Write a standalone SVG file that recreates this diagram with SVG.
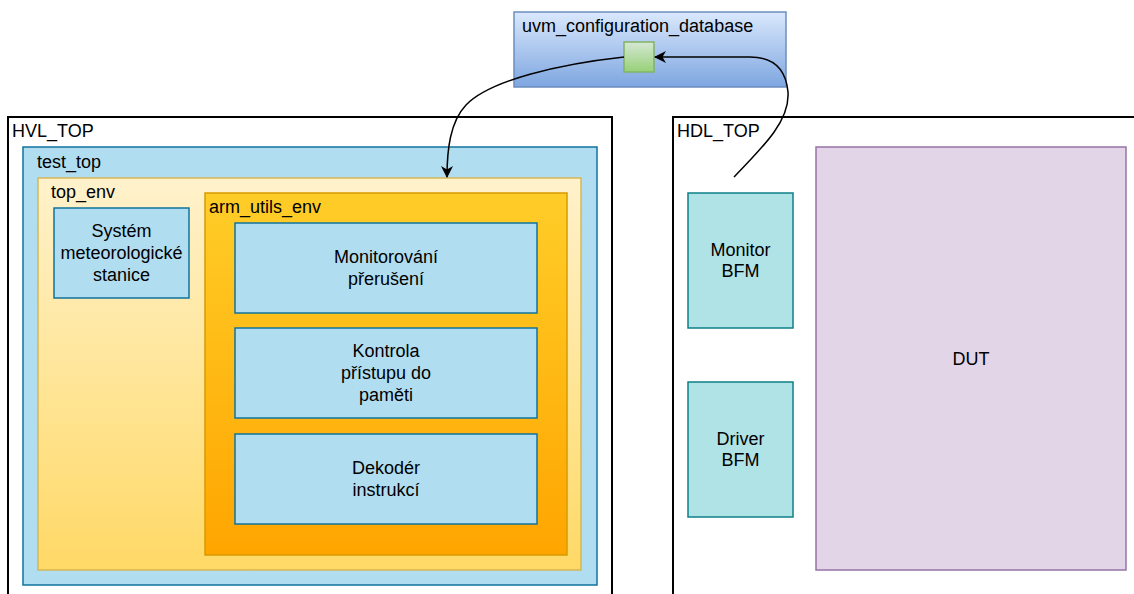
<svg xmlns="http://www.w3.org/2000/svg" width="1134" height="594" viewBox="0 0 1134 594">
<defs>
<linearGradient id="gBlue" x1="0" y1="0" x2="0" y2="1"><stop offset="0" stop-color="#dae8fc"/><stop offset="1" stop-color="#7ea6e0"/></linearGradient>
<linearGradient id="gGreen" x1="0" y1="0" x2="0" y2="1"><stop offset="0" stop-color="#d5e8d4"/><stop offset="1" stop-color="#97d077"/></linearGradient>
<linearGradient id="gYellow" x1="0" y1="0" x2="0" y2="1"><stop offset="0" stop-color="#fff2cc"/><stop offset="1" stop-color="#ffd966"/></linearGradient>
<linearGradient id="gOrange" x1="0" y1="0" x2="0" y2="1"><stop offset="0" stop-color="#ffcd28"/><stop offset="1" stop-color="#ffa500"/></linearGradient>
<marker id="arr" viewBox="0 0 12 12" refX="11" refY="6" markerWidth="12" markerHeight="12" markerUnits="userSpaceOnUse" orient="auto"><path d="M0,0 L12,6 L0,12 L3.5,6 Z" fill="#000"/></marker>
</defs>
<style>
text{font-family:"Liberation Sans",Arial,sans-serif;font-size:18px;fill:#000}
.c{text-anchor:middle}
.top{fill:#fff;stroke:#000;stroke-width:2}
.blue{fill:#b1ddf0;stroke:#10739e;stroke-width:1.5}
.bfm{fill:#b0e3e6;stroke:#0e8088;stroke-width:1.5}
.edge{fill:none;stroke:#000;stroke-width:1.5}
</style>
<rect width="1134" height="594" fill="#fff"/>
<g id="hvl_top">
<rect class="top" x="8" y="117" width="604" height="490"/>
<text x="12" y="137">HVL_TOP</text>
</g>
<g id="test_top">
<rect class="blue" x="23" y="147" width="574" height="438"/>
<text x="37" y="168">test_top</text>
</g>
<g id="top_env">
<rect x="38" y="178" width="543" height="392" fill="url(#gYellow)" stroke="#d6b656" stroke-width="1.5"/>
<text x="51" y="198">top_env</text>
</g>
<g id="system">
<rect class="blue" x="54" y="208" width="135" height="90"/>
<text class="c" x="121.5" y="237.4">Systém</text>
<text class="c" x="121.5" y="259">meteorologické</text>
<text class="c" x="121.5" y="280.6">stanice</text>
</g>
<g id="arm_utils_env">
<rect x="205" y="193" width="362" height="362" fill="url(#gOrange)" stroke="#d79b00" stroke-width="1.5"/>
<text x="209" y="213">arm_utils_env</text>
</g>
<g id="monitorovani">
<rect class="blue" x="235" y="223" width="302" height="90"/>
<text class="c" x="386" y="263">Monitorování</text>
<text class="c" x="386" y="285">přerušení</text>
</g>
<g id="kontrola">
<rect class="blue" x="235" y="328" width="302" height="90"/>
<text class="c" x="386" y="357.4">Kontrola</text>
<text class="c" x="386" y="379">přístupu do</text>
<text class="c" x="386" y="400.6">paměti</text>
</g>
<g id="dekoder">
<rect class="blue" x="235" y="434" width="302" height="90"/>
<text class="c" x="386" y="474">Dekodér</text>
<text class="c" x="386" y="496">instrukcí</text>
</g>
<g id="hdl_top">
<rect class="top" x="673" y="117" width="480" height="490"/>
<text x="677" y="137">HDL_TOP</text>
</g>
<g id="monitor_bfm">
<rect class="bfm" x="688" y="193" width="105" height="135"/>
<text class="c" x="740.5" y="255.7">Monitor</text>
<text class="c" x="740.5" y="277.3">BFM</text>
</g>
<g id="driver_bfm">
<rect class="bfm" x="688" y="382" width="105" height="135"/>
<text class="c" x="740.5" y="444.7">Driver</text>
<text class="c" x="740.5" y="466.3">BFM</text>
</g>
<g id="dut">
<rect x="816" y="147" width="310" height="423" fill="#e1d5e7" stroke="#9673a6" stroke-width="1.5"/>
<text class="c" x="971" y="365">DUT</text>
</g>
<g id="uvm_configuration_database">
<rect x="514" y="12" width="272" height="75" fill="url(#gBlue)" stroke="#6c8ebf" stroke-width="1.5"/>
<text x="522" y="32">uvm_configuration_database</text>
</g>
<g id="config_item">
<rect x="624" y="42" width="30" height="30" fill="url(#gGreen)" stroke="#82b366" stroke-width="1.5"/>
</g>
<g id="connectors">
<path class="edge" d="M624 57 C560 64 490 80 466 105 C450 122 447 150 447 177" marker-end="url(#arr)"/>
<path class="edge" d="M734 177 C765 145 790 120 788 92 C786 70 775 57 750 57 L655 57" marker-end="url(#arr)"/>
</g>
</svg>
